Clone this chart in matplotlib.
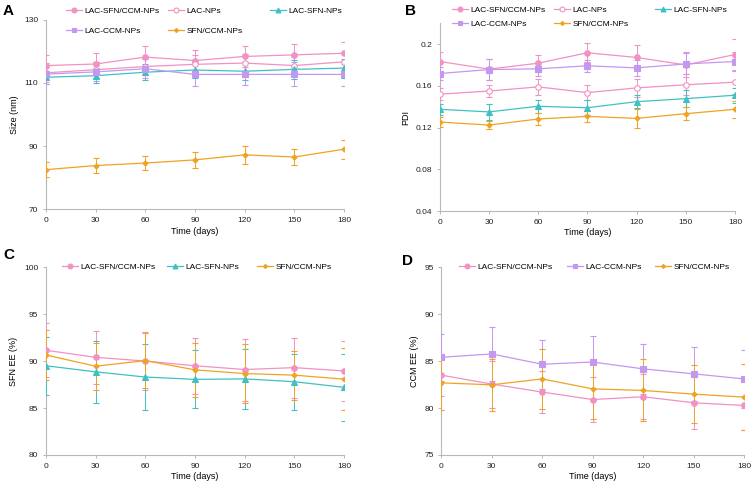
import matplotlib.pyplot as plt
from matplotlib.lines import Line2D

plt.rcParams['font.family'] = ['Liberation Sans', 'DejaVu Sans']
plt.rcParams['font.size'] = 6

days = [0, 30, 60, 90, 120, 150, 180]

# A - size (nm)
size_lsc = [115.5, 116.0, 118.2, 117.1, 118.4, 118.9, 119.4]
size_lsc_err = [3.5, 3.5, 3.4, 3.2, 3.3, 3.5, 3.5]
size_lac = [113.2, 114.2, 115.2, 115.9, 116.3, 115.5, 116.7]
size_lac_err = [3.0, 2.5, 2.6, 2.8, 3.0, 3.0, 3.0]
size_ls = [111.8, 112.3, 113.4, 114.1, 113.7, 114.3, 114.7]
size_ls_err = [2.0, 2.3, 2.5, 2.6, 2.8, 3.0, 3.0]
size_lc = [112.8, 113.5, 114.5, 112.7, 112.7, 112.7, 112.7]
size_lc_err = [3.0, 3.0, 3.0, 3.8, 3.5, 3.8, 3.8]
size_sc = [82.5, 83.8, 84.6, 85.6, 87.2, 86.5, 89.0]
size_sc_err = [2.3, 2.5, 2.2, 2.6, 2.8, 2.6, 3.0]

# B - PDI
pdi_lsc = [0.1833, 0.176, 0.1817, 0.1917, 0.1872, 0.180, 0.190]
pdi_lsc_err = [0.009, 0.010, 0.008, 0.009, 0.012, 0.012, 0.015]
pdi_lac = [0.152, 0.155, 0.159, 0.1535, 0.158, 0.161, 0.1635]
pdi_lac_err = [0.006, 0.006, 0.008, 0.007, 0.009, 0.010, 0.011]
pdi_ls = [0.1375, 0.135, 0.1404, 0.139, 0.1448, 0.1477, 0.151]
pdi_ls_err = [0.005, 0.008, 0.006, 0.007, 0.006, 0.008, 0.007]
pdi_lc = [0.1718, 0.1756, 0.1763, 0.1792, 0.1772, 0.181, 0.1833]
pdi_lc_err = [0.006, 0.010, 0.007, 0.006, 0.008, 0.010, 0.009]
pdi_sc = [0.1253, 0.1224, 0.1282, 0.1307, 0.1288, 0.1333, 0.1375]
pdi_sc_err = [0.005, 0.004, 0.006, 0.005, 0.009, 0.006, 0.008]

# C - SFN EE (%)
sfn_lsc = [91.15, 90.4, 90.0, 89.5, 89.1, 89.3, 88.95]
sfn_lsc_err = [2.9, 2.8, 3.1, 3.0, 3.3, 3.2, 3.2]
sfn_ls = [89.5, 88.85, 88.3, 88.05, 88.1, 87.8, 87.2]
sfn_ls_err = [3.1, 3.3, 3.5, 3.1, 3.2, 3.0, 3.6]
sfn_sc = [90.65, 89.45, 90.05, 89.06, 88.67, 88.5, 88.07]
sfn_sc_err = [2.7, 2.5, 2.9, 2.9, 3.1, 2.6, 3.3]

# D - CCM EE (%)
ccm_lsc = [83.5, 82.55, 81.7, 80.9, 81.2, 80.56, 80.27]
ccm_lsc_err = [2.2, 2.5, 2.2, 2.4, 2.4, 2.8, 2.6]
ccm_lc = [85.4, 85.76, 84.66, 84.9, 84.17, 83.64, 83.1]
ccm_lc_err = [2.5, 2.9, 2.6, 2.8, 2.7, 2.9, 3.1]
ccm_sc = [82.68, 82.47, 83.1, 82.04, 81.87, 81.48, 81.16]
ccm_sc_err = [2.9, 2.8, 3.2, 3.2, 3.3, 3.1, 3.5]

pink = '#f291c4'
teal = '#3fc1c3'
purple = '#c497f0'
orange = '#f0a323'

styles = {
    'LAC-SFN/CCM-NPs': dict(color=pink, marker='o', ms=4, mfc=pink),
    'LAC-NPs': dict(color=pink, marker='o', ms=4, mfc='white'),
    'LAC-SFN-NPs': dict(color=teal, marker='^', ms=4, mfc=teal),
    'LAC-CCM-NPs': dict(color=purple, marker='s', ms=4, mfc=purple),
    'SFN/CCM-NPs': dict(color=orange, marker='D', ms=2.6, mfc=orange),
}


def series(ax, name, y, err):
    st = styles[name]
    ax.errorbar(days, y, yerr=err, color=st['color'], lw=0.9, marker=st['marker'],
                ms=st['ms'], mfc=st['mfc'], mec=st['color'], mew=0.8,
                ecolor=st['color'], elinewidth=0.7, capsize=2.5, capthick=0.7,
                zorder=3)


def handle(name):
    st = styles[name]
    return Line2D([], [], color=st['color'], lw=0.9, marker=st['marker'], ms=st['ms'] - 0.5,
                  mfc=st['mfc'], mec=st['color'], mew=0.8)


def style_axis(ax, ylim, yticks, ylabel):
    ax.set_xlim(0, 180)
    ax.set_xticks(days)
    ax.set_ylim(*ylim)
    ax.set_yticks(yticks)
    for s in ['top', 'right']:
        ax.spines[s].set_visible(False)
    for s in ['left', 'bottom']:
        ax.spines[s].set_color('#b8b8b8')
        ax.spines[s].set_linewidth(0.8)
    ax.tick_params(length=2.5, width=0.7, color='#b8b8b8', labelcolor='#222222',
                   labelsize=6, pad=3)
    ax.set_xlabel('Time (days)', fontsize=6.5, labelpad=2)
    ax.set_ylabel(ylabel, fontsize=6.5, labelpad=4)
    ax.patch.set_alpha(0)


fig = plt.figure(figsize=(7.53, 4.84), dpi=100)

axA = fig.add_axes([0.061, 0.568, 0.396, 0.391])
series(axA, 'LAC-SFN/CCM-NPs', size_lsc, size_lsc_err)
series(axA, 'LAC-NPs', size_lac, size_lac_err)
series(axA, 'LAC-SFN-NPs', size_ls, size_ls_err)
series(axA, 'LAC-CCM-NPs', size_lc, size_lc_err)
series(axA, 'SFN/CCM-NPs', size_sc, size_sc_err)
style_axis(axA, (70, 130), [70, 90, 110, 130], 'Size (nm)')

axB = fig.add_axes([0.584, 0.564, 0.392, 0.388])
series(axB, 'LAC-SFN/CCM-NPs', pdi_lsc, pdi_lsc_err)
series(axB, 'LAC-NPs', pdi_lac, pdi_lac_err)
series(axB, 'LAC-SFN-NPs', pdi_ls, pdi_ls_err)
series(axB, 'LAC-CCM-NPs', pdi_lc, pdi_lc_err)
series(axB, 'SFN/CCM-NPs', pdi_sc, pdi_sc_err)
style_axis(axB, (0.04, 0.22), [0.04, 0.08, 0.12, 0.16, 0.2], 'PDI')
axB.set_yticklabels(['0.04', '0.08', '0.12', '0.16', '0.2'])

axC = fig.add_axes([0.061, 0.06, 0.396, 0.388])
series(axC, 'LAC-SFN/CCM-NPs', sfn_lsc, sfn_lsc_err)
series(axC, 'LAC-SFN-NPs', sfn_ls, sfn_ls_err)
series(axC, 'SFN/CCM-NPs', sfn_sc, sfn_sc_err)
style_axis(axC, (80, 100), [80, 85, 90, 95, 100], 'SFN EE (%)')

axD = fig.add_axes([0.586, 0.06, 0.402, 0.388])
series(axD, 'LAC-SFN/CCM-NPs', ccm_lsc, ccm_lsc_err)
series(axD, 'LAC-CCM-NPs', ccm_lc, ccm_lc_err)
series(axD, 'SFN/CCM-NPs', ccm_sc, ccm_sc_err)
style_axis(axD, (75, 95), [75, 80, 85, 90, 95], 'CCM EE (%)')

# legend entries placed one by one: (name, left pixel, center pixel)
W, H = 753, 484
legend_items = [
    ('LAC-SFN/CCM-NPs', 66, 11), ('LAC-NPs', 168, 11), ('LAC-SFN-NPs', 270, 11),
    ('LAC-CCM-NPs', 66, 31), ('SFN/CCM-NPs', 168, 31),
    ('LAC-SFN/CCM-NPs', 452, 10), ('LAC-NPs', 554, 10), ('LAC-SFN-NPs', 655, 10),
    ('LAC-CCM-NPs', 452, 24), ('SFN/CCM-NPs', 554, 24),
    ('LAC-SFN/CCM-NPs', 62, 267), ('LAC-SFN-NPs', 167, 267), ('SFN/CCM-NPs', 257, 267),
    ('LAC-SFN/CCM-NPs', 459, 267), ('LAC-CCM-NPs', 567, 267), ('SFN/CCM-NPs', 655, 267),
]
for name, px, py in legend_items:
    fig.legend([handle(name)], [name], loc='center left', bbox_to_anchor=(px / W, 1 - py / H),
               frameon=False, fontsize=6, handlelength=1.9, handletextpad=0.35,
               borderpad=0, borderaxespad=0)

for lbl, px, py in [('A', 3, 4), ('B', 405, 4), ('C', 3, 248), ('D', 402, 254)]:
    fig.text(px / W, 1 - py / H, lbl, fontsize=11, fontweight='bold', va='top', ha='left')

fig.savefig('out.png', dpi=100)
